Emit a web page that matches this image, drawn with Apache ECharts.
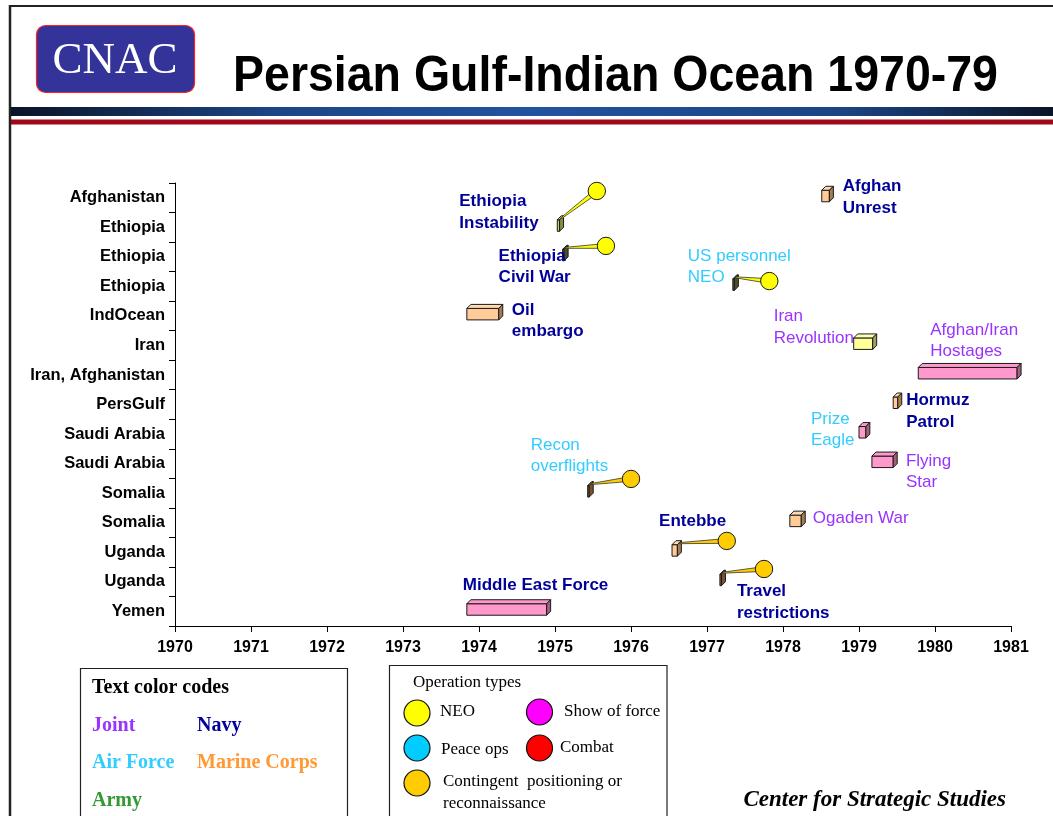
<!DOCTYPE html>
<html><head><meta charset="utf-8">
<script src="https://cdn.jsdelivr.net/npm/echarts@6/dist/echarts.min.js"></script>
<style>html,body{margin:0;padding:0;background:#fff}#c{width:1053px;height:816px}</style>
</head><body><div id="c"></div>
<script>
// ---------------- DATA ----------------
const categories = ['Afghanistan','Ethiopia','Ethiopia','Ethiopia','IndOcean','Iran','Iran, Afghanistan','PersGulf','Saudi Arabia','Saudi Arabia','Somalia','Somalia','Uganda','Uganda','Yemen'];
const yearTicks = [1970,1971,1972,1973,1974,1975,1976,1977,1978,1979,1980,1981];
const eventNames = ['Afghan Unrest','Ethiopia Instability','Ethiopia Civil War','US personnel NEO','Oil embargo','Iran Revolution','Afghan/Iran Hostages','Hormuz Patrol','Prize Eagle','Flying Star','Recon overflights','Ogaden War','Entebbe','Travel restrictions','Middle East Force'];
const eventLabels = ['Afghan\nUnrest','Ethiopia\nInstability','Ethiopia\nCivil War','US personnel\nNEO','Oil\nembargo','Iran\nRevolution','Afghan/Iran\nHostages','Hormuz\nPatrol','Prize\nEagle','Flying\nStar','Recon\noverflights','Ogaden War','Entebbe','Travel\nrestrictions','Middle East Force'];
const rowIndex = [0,1,2,3,4,5,6,7,8,9,10,11,12,13,14];
const startYears = [1978.51,1975.03,1975.10,1977.34,1973.84,1978.93,1979.78,1979.45,1979.00,1979.17,1975.43,1978.09,1976.54,1977.17,1973.84];
const endYears   = [1978.61,1975.06,1975.12,1977.36,1974.26,1979.18,1981.08,1979.51,1979.09,1979.45,1975.45,1978.24,1976.61,1977.19,1974.89];
const services = ['Navy','Navy','Navy','Air Force','Navy','Joint','Joint','Navy','Air Force','Joint','Air Force','Joint','Navy','Navy','Navy'];
const operationTypes = [null,'NEO','NEO','NEO',null,null,null,null,null,null,'Contingent',null,'Contingent','Contingent',null];
const pinYears = [null,1975.55,1975.67,1977.82,null,null,null,null,null,null,1976.00,null,1977.26,1977.75,null];
const pinRowOffsets = [null,-1.23,-0.37,-0.18,null,null,null,null,null,null,-0.48,null,-0.38,-0.43,null];
const serviceNames = ['Joint','Navy','Air Force','Marine Corps','Army'];
const opTypeNames = ['NEO','Show of force','Peace ops','Combat','Contingent  positioning or\nreconnaissance'];
const opTypeKeys = ['NEO','Show of force','Peace ops','Combat','Contingent'];

// ---------------- STYLE ----------------
const SANS = '"Liberation Sans", Arial, sans-serif';
const SERIF = '"Liberation Serif", "Times New Roman", serif';
const serviceColors = {'Joint':'#9933FF','Navy':'#000099','Air Force':'#33CCFF','Marine Corps':'#FF9933','Army':'#339933'};
const opColors = {'NEO':'#FFFF00','Show of force':'#FF00FF','Peace ops':'#00CCFF','Combat':'#FF0000','Contingent':'#FFCC00'};
const tones = {
  peach:{front:'#FFCC99',top:'#FFD9B3',side:'#A67C52'},
  pink:{front:'#FF99CC',top:'#FF99CC',side:'#A0607A'},
  yellow:{front:'#FFFF99',top:'#FFFFB0',side:'#A0A060'},
  olive:{front:'#CCCC66',top:'#DDDD88',side:'#8A8A40'},
  dark:{front:'#666633',top:'#808040',side:'#4D4D26'},
  brown:{front:'#996633',top:'#AA7744',side:'#7A5230'}
};
const toneByEvent = {'Afghan Unrest':'peach','Ethiopia Instability':'olive','Ethiopia Civil War':'dark','US personnel NEO':'dark','Oil embargo':'peach','Iran Revolution':'yellow','Afghan/Iran Hostages':'pink','Hormuz Patrol':'peach','Prize Eagle':'pink','Flying Star':'pink','Recon overflights':'brown','Ogaden War':'peach','Entebbe':'peach','Travel restrictions':'brown','Middle East Force':'pink'};
// label offset (px) of first-line centre from box start / row centre
const labelOffsets = {'Afghan Unrest':[21,-11],'Ethiopia Instability':[-98,-25.6],'Ethiopia Civil War':[-64,-1],'US personnel NEO':[-45,-30.4],'Oil embargo':[45,-6],'Iran Revolution':[-80,-28.7],'Afghan/Iran Hostages':[12,-45],'Hormuz Patrol':[13,-3.8],'Prize Eagle':[-48,-15],'Flying Star':[34,-2.6],'Recon overflights':[-57,-48],'Ogaden War':[23,-4.3],'Entebbe':[-13,-30.4],'Travel restrictions':[17,10],'Middle East Force':[-4,-25.5]};
const LH = 21.5;

const seriesData = eventNames.map((n,i)=>[startYears[i], endYears[i], rowIndex[i], i]);

function renderItem(params, api){
  const i = api.value(3);
  const name = eventNames[i];
  const s = api.coord([api.value(0), api.value(2)]);
  const e = api.coord([api.value(1), api.value(2)]);
  const band = api.size([0,1])[1];
  const t = tones[toneByEvent[name]];
  const x0 = s[0], x1 = Math.max(e[0], x0 + 1.5), c = s[1];
  const ft = c - 7.5, fb = c + 4, d = 4;
  const stroke = {stroke:'#1a1a1a', lineWidth:1};
  const children = [
    {type:'rect', shape:{x:x0, y:ft, width:x1-x0, height:fb-ft}, style:Object.assign({fill:t.front}, stroke)},
    {type:'polygon', shape:{points:[[x0,ft],[x0+d,ft-d],[x1+d,ft-d],[x1,ft]]}, style:Object.assign({fill:t.top}, stroke)},
    {type:'polygon', shape:{points:[[x1,ft],[x1+d,ft-d],[x1+d,fb-d],[x1,fb]]}, style:Object.assign({fill:t.side}, stroke)}
  ];
  const op = operationTypes[i];
  if (op) {
    const pc = api.coord([pinYears[i], api.value(2)]);
    const cx = pc[0], cy = pc[1] + pinRowOffsets[i]*band;
    const sx = x1 + 1.5, sy = ft - 1.5;
    const dx = cx - sx, dy = cy - sy, L = Math.sqrt(dx*dx+dy*dy);
    const nx = -dy/L, ny = dx/L;
    const col = opColors[op];
    children.push({type:'polygon', shape:{points:[[sx+nx*0.5,sy+ny*0.5],[cx+nx*2.4,cy+ny*2.4],[cx-nx*2.4,cy-ny*2.4],[sx-nx*0.5,sy-ny*0.5]]}, style:{fill:col, stroke:'#333', lineWidth:0.8}});
    children.push({type:'circle', shape:{cx:cx, cy:cy, r:8.7}, style:{fill:col, stroke:'#1a1a1a', lineWidth:1}});
  }
  const off = labelOffsets[name];
  const svc = services[i];
  children.push({type:'text', style:{text:eventLabels[i], x:x0+off[0], y:c+off[1]-LH/2, fill:serviceColors[svc],
    fontSize:17, fontWeight: svc==='Navy' ? 'bold' : 'normal', fontFamily:SANS, lineHeight:LH, align:'left', verticalAlign:'top'}});
  return {type:'group', children};
}

// ---------------- DECORATION ----------------
const graphics = [];
graphics.push({type:'line', shape:{x1:9, y1:6, x2:1053, y2:6}, style:{stroke:'#222', lineWidth:2}});
graphics.push({type:'line', shape:{x1:10, y1:5, x2:10, y2:816}, style:{stroke:'#222', lineWidth:2.5}});
graphics.push({type:'rect', shape:{x:36.5, y:25.5, width:158, height:67, r:9}, style:{fill:'#333399', stroke:'#FF2020', lineWidth:1.2}});
graphics.push({type:'text', x:115, y:61, style:{text:'CNAC', fill:'#fff', font:'45px '+SERIF, align:'center', verticalAlign:'middle'}});
graphics.push({type:'text', x:233, y:77, scaleY:1.06, style:{text:'Persian Gulf-Indian Ocean 1970-79', fill:'#000', font:'bold 46.5px '+SANS, align:'left', verticalAlign:'middle'}});
graphics.push({type:'rect', shape:{x:11, y:107, width:1042, height:9}, style:{fill:new echarts.graphic.LinearGradient(0,0,1,0,[
  {offset:0,color:'#0A1428'},{offset:0.25,color:'#1C4585'},{offset:0.5,color:'#2253A0'},{offset:0.8,color:'#1B4482'},{offset:1,color:'#0A1428'}])}});
graphics.push({type:'rect', shape:{x:11, y:119.5, width:1042, height:5}, style:{fill:'#A0081A'}});
graphics.push({type:'rect', shape:{x:80.5, y:668.5, width:267, height:160}, style:{fill:'none', stroke:'#222', lineWidth:1.2}});
graphics.push({type:'text', x:92, y:688, style:{text:'Text color codes', fill:'#000', font:'bold 20px '+SERIF, verticalAlign:'middle'}});
const svcPos = [[92,726],[197,726],[92,763],[197,763],[92,801]];
serviceNames.forEach((n,k)=>{
  graphics.push({type:'text', x:svcPos[k][0], y:svcPos[k][1], style:{text:n, fill:serviceColors[n], font:'bold 20px '+SERIF, verticalAlign:'middle'}});
});
graphics.push({type:'rect', shape:{x:389.5, y:665.5, width:277.5, height:160}, style:{fill:'none', stroke:'#222', lineWidth:1.2}});
graphics.push({type:'text', x:413, y:683, style:{text:'Operation types', fill:'#000', font:'17px '+SERIF, verticalAlign:'middle'}});
const opPos = [[417,713,440,712],[539.5,712,564,712],[417,748,441,750],[539.5,748,560,748],[417,783,443,781.5]];
opTypeKeys.forEach((k,j)=>{
  const p = opPos[j];
  graphics.push({type:'ellipse', shape:{cx:p[0], cy:p[1], rx:13, ry:13}, style:{fill:opColors[k], stroke:'#111', lineWidth:1.2}});
  const multi = opTypeNames[j].indexOf('\n') >= 0;
  graphics.push({type:'text', x:p[2], y: multi ? p[3]-11 : p[3], style:{text:opTypeNames[j], fill:'#000', font:'17px '+SERIF, verticalAlign: multi ? 'top' : 'middle', lineHeight:22}});
});
graphics.push({type:'text', x:1006, y:800, style:{text:'Center for Strategic Studies', fill:'#000', font:'italic bold 23px '+SERIF, align:'right', verticalAlign:'middle'}});

const chart = echarts.init(document.getElementById('c'), null, {renderer:'canvas'});
chart.setOption({
  animation:false,
  backgroundColor:'#fff',
  textStyle:{fontFamily:SANS},
  grid:{left:175, right:42, top:183, bottom:190, containLabel:false},
  xAxis:{type:'value', min:yearTicks[0], max:yearTicks[yearTicks.length-1], interval:1,
    axisLine:{show:true, lineStyle:{color:'#000', width:1.2}},
    axisTick:{show:true, length:6, lineStyle:{color:'#000', width:1}},
    axisLabel:{color:'#000', fontWeight:'bold', fontSize:16, fontFamily:SANS, margin:14, formatter:v=>String(v)},
    splitLine:{show:false}},
  yAxis:{type:'category', data:categories, inverse:true,
    axisLine:{show:true, lineStyle:{color:'#000', width:1}},
    axisTick:{show:true, length:6, interval:0, lineStyle:{color:'#000', width:1}},
    axisLabel:{color:'#000', fontWeight:'bold', fontSize:16.5, fontFamily:SANS, margin:10, interval:0},
    splitLine:{show:false}},
  series:[{type:'custom', renderItem:renderItem, data:seriesData, encode:{x:[0,1], y:2}, clip:false, z:10}],
  graphic:graphics
});
</script></body></html>
